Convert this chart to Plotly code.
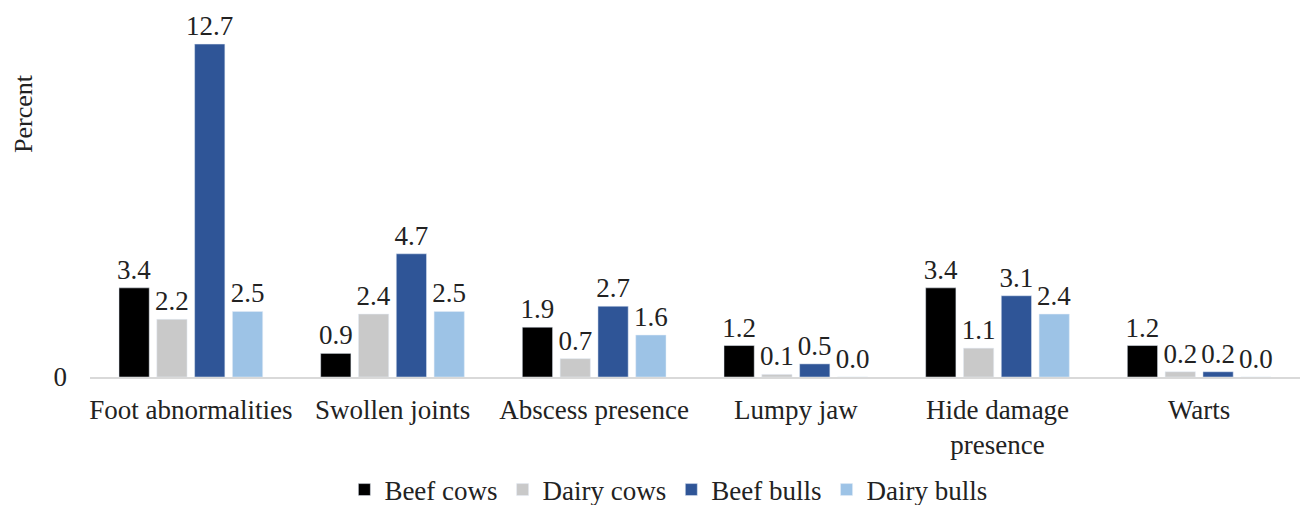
import plotly.graph_objects as go

categories = ["Foot abnormalities", "Swollen joints", "Abscess presence", "Lumpy jaw",
              "Hide damage<br>presence", "Warts"]
beef_cows = [3.4, 0.9, 1.9, 1.2, 3.4, 1.2]
dairy_cows = [2.2, 2.4, 0.7, 0.1, 1.1, 0.2]
beef_bulls = [12.7, 4.7, 2.7, 0.5, 3.1, 0.2]
dairy_bulls = [2.5, 2.5, 1.6, 0.0, 2.4, 0.0]

series = [
    ("Beef cows", beef_cows, "#000000"),
    ("Dairy cows", dairy_cows, "#C9C9C9"),
    ("Beef bulls", beef_bulls, "#2F5597"),
    ("Dairy bulls", dairy_bulls, "#9DC3E6"),
]

FONT = "Liberation Serif"
FS = 27
fig = go.Figure()
for name, vals, color in series:
    fig.add_trace(go.Bar(
        x=categories, y=vals, name=name, marker_color=color,
        text=[f"{v:.1f}" for v in vals], textposition="outside",
        textfont=dict(family=FONT, size=FS, color="#222222"),
        constraintext="none", cliponaxis=False,
    ))

fig.add_annotation(text="Percent", xref="paper", yref="paper", x=-0.0545, y=0.717,
                   xanchor="center", yanchor="middle", borderpad=0,
                   textangle=-90, showarrow=False,
                   font=dict(family=FONT, size=26, color="#222222"))

fig.update_layout(
    width=1314, height=505,
    barmode="group", bargap=0.25, bargroupgap=0.2,
    plot_bgcolor="white", paper_bgcolor="white",
    margin=dict(l=82, r=22, t=2, b=136, autoexpand=False),
    font=dict(family=FONT, size=FS, color="#222222"),
    showlegend=True,
    legend=dict(orientation="h", x=0.478, xanchor="center", y=-0.308, yanchor="middle",
                font=dict(family=FONT, size=FS), itemwidth=30, traceorder="normal"),
    xaxis=dict(showline=True, linecolor="#D9D9D9", linewidth=1.5, ticks="",
               tickfont=dict(family=FONT, size=FS), automargin=False,
               ticklabelstandoff=8),
    yaxis=dict(range=[0, 14], tickvals=[0], showgrid=False, zeroline=False,
               ticklabelstandoff=22, automargin=False,
               tickfont=dict(family=FONT, size=FS)),
)
fig.write_html("out.html")
